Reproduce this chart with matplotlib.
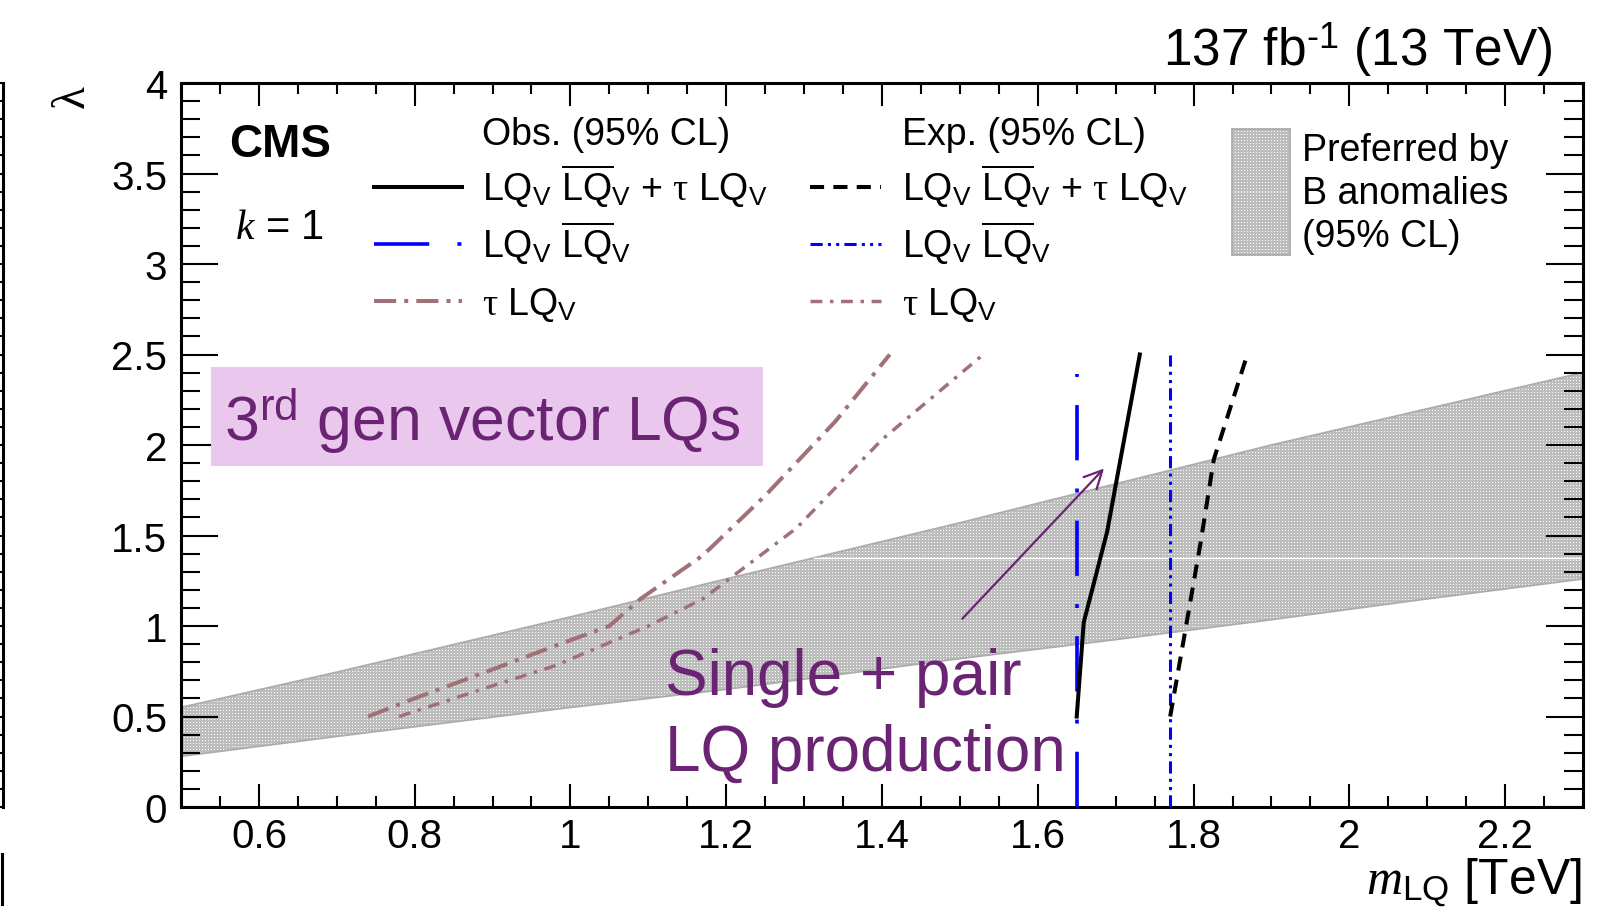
import numpy as np
import matplotlib
matplotlib.use("Agg")
import matplotlib.pyplot as plt
from matplotlib.lines import Line2D
from matplotlib.patches import Polygon, Rectangle
from matplotlib.ticker import MultipleLocator, FuncFormatter

plt.rcParams['font.family'] = ['Liberation Sans', 'DejaVu Sans']
plt.rcParams['mathtext.fontset'] = 'custom'
plt.rcParams['mathtext.rm'] = 'Liberation Sans'
plt.rcParams['mathtext.it'] = 'Liberation Serif:italic'
plt.rcParams['mathtext.bf'] = 'Liberation Sans:bold'
plt.rcParams['mathtext.sf'] = 'Liberation Serif'

# ------------------------------------------------------------------
# limits (lambda vs m_LQ), all masses in TeV
# ------------------------------------------------------------------
band_x     = [0.50, 0.70, 1.00, 1.20, 1.50, 1.70, 1.90, 2.10, 2.30]
band_upper = [0.55, 0.745, 1.05, 1.26, 1.57, 1.785, 2.00, 2.20, 2.40]
band_lower = [0.28, 0.39, 0.55, 0.65, 0.82, 0.925, 1.035, 1.15, 1.26]
band_split = 1.376

obs_comb_x = [1.650, 1.659, 1.689, 1.731]
obs_comb_y = [0.50, 1.02, 1.52, 2.50]
exp_comb_x = [1.770, 1.789, 1.809, 1.826, 1.869]
exp_comb_y = [0.50, 0.965, 1.46, 1.92, 2.50]

obs_pair_x = [1.65, 1.65]
obs_pair_y = [0.0, 2.39]
exp_pair_x = [1.77, 1.77]
exp_pair_y = [0.0, 2.50]

obs_single_x = [0.74, 0.80, 0.90, 0.98, 1.05, 1.09, 1.17, 1.25, 1.34, 1.41]
obs_single_y = [0.50, 0.60, 0.76, 0.89, 1.00, 1.15, 1.39, 1.72, 2.13, 2.50]
exp_single_x = [0.78, 0.90, 0.98, 1.10, 1.17, 1.29, 1.40, 1.53]
exp_single_y = [0.50, 0.67, 0.78, 1.00, 1.15, 1.54, 2.03, 2.50]

arrow_tail = (1.503, 1.04)
arrow_head = (1.685, 1.87)

W, H = 1608, 912


def fpos(x, y):
    # pixel position -> figure fraction
    return x / W, 1 - y / H


def dots_texture(h, w):
    tex = np.full((h, w), 0.74)
    tex[::3, ::3] = 1.0
    return tex


purple = '#6b2374'
tau_col = '#a07278'
dash_obs_pair = (0, (15.3, 7.8, 1.1, 7.8))
dash_exp_pair = (0, (4, 1.7, 1, 1.7, 1, 1.7))
dash_exp_comb = (0, (3.5, 2.3))
dash_obs_single = (0, (5.5, 2, 1, 2))
dash_exp_single = (0, (3.4, 2.2, 1, 2.2))

fig = plt.figure(figsize=(W / 100, H / 100), dpi=100)
ax = fig.add_axes([181 / W, 1 - 808 / H, (1583 - 181) / W, (808 - 84) / H])
ax.set_xlim(0.5, 2.3)
ax.set_ylim(0, 4)

# B-anomaly band with the dotted fill
verts = np.column_stack([band_x + band_x[::-1], band_upper + band_lower[::-1]])
clip = Polygon(verts, closed=True, facecolor='none', edgecolor='none')
ax.add_patch(clip)
im = ax.imshow(dots_texture(724, 1402), extent=[0.5, 2.3, 0, 4], aspect='auto',
               cmap='gray', vmin=0, vmax=1, interpolation='nearest', zorder=1)
im.set_clip_path(clip)
ax.plot(band_x, band_upper, color='#acacac', lw=1.3, zorder=1.5)
ax.plot(band_x, band_lower, color='#acacac', lw=1.3, zorder=1.5)
x_split = np.interp(band_split, band_upper, band_x)
ax.plot([x_split, 2.3], [band_split, band_split], color='white', lw=1.0, zorder=1.6)

# limit curves
ax.plot(obs_single_x, obs_single_y, color=tau_col, lw=2.9, linestyle=dash_obs_single, zorder=3)
ax.plot(exp_single_x, exp_single_y, color=tau_col, lw=2.5, linestyle=dash_exp_single, zorder=3)
ax.plot(obs_pair_x, obs_pair_y, color='#0000ff', lw=2.6, linestyle=dash_obs_pair, zorder=3)
ax.plot(exp_pair_x, exp_pair_y, color='#0000ff', lw=2.2, linestyle=dash_exp_pair, zorder=3)
ax.plot(obs_comb_x, obs_comb_y, color='black', lw=2.9, zorder=4)
ax.plot(exp_comb_x, exp_comb_y, color='black', lw=2.9, linestyle=dash_exp_comb, zorder=4)

ax.annotate('', xy=arrow_head, xytext=arrow_tail,
            arrowprops=dict(arrowstyle='->', color=purple, lw=1.6, mutation_scale=32,
                            shrinkA=0, shrinkB=0), zorder=5)

# axes styling
for sp in ax.spines.values():
    sp.set_linewidth(2.2)
ax.xaxis.set_major_locator(MultipleLocator(0.2))
ax.xaxis.set_minor_locator(MultipleLocator(0.05))
ax.yaxis.set_major_locator(MultipleLocator(0.5))
ax.yaxis.set_minor_locator(MultipleLocator(0.1))
fmt = FuncFormatter(lambda v, _: f'{v:g}')
ax.xaxis.set_major_formatter(fmt)
ax.yaxis.set_major_formatter(fmt)
ax.tick_params(axis='x', which='major', direction='in', length=16.5, width=1.5,
               top=True, labelsize=29, pad=7)
ax.tick_params(axis='x', which='minor', direction='in', length=8, width=1.5, top=True)
ax.tick_params(axis='y', which='major', direction='in', length=26.6, width=1.5,
               right=True, labelsize=29, pad=10)
ax.tick_params(axis='y', which='minor', direction='in', length=13.7, width=1.5, right=True)

# neighbouring panel edge on the far left
axl = fig.add_axes([-0.2, 1 - 808 / H, 0.2 + 3 / W, (808 - 84) / H])
axl.set_ylim(0, 4)
axl.set_xticks([])
for side in ('left', 'top', 'bottom'):
    axl.spines[side].set_visible(False)
axl.spines['right'].set_linewidth(2.2)
axl.yaxis.set_major_locator(MultipleLocator(0.5))
axl.yaxis.set_minor_locator(MultipleLocator(0.1))
axl.tick_params(axis='y', which='both', left=False, right=True, labelleft=False,
                direction='in', length=20, width=1.5)
fig.add_artist(Line2D([2 / W, 2 / W], [1 - 855 / H, 1 - 905 / H], color='black', lw=2.2))

# axis titles
fig.text(*fpos(73, 97), 'λ', fontsize=34, family='Liberation Serif', rotation=90,
         ha='center', va='center')
fig.text(*fpos(1582, 895), r'$m_{\mathrm{LQ}}$ [TeV]', fontsize=36, ha='right', va='baseline')
fig.text(*fpos(1552, 65), '137 fb$^{\u2010\\mathrm{1}}$ (13 TeV)', fontsize=37,
         ha='right', va='baseline')
fig.text(*fpos(229, 157), 'CMS', fontsize=33, fontweight='bold', ha='left', va='baseline')
fig.text(*fpos(235, 239), r'$k$ = 1', fontsize=30, ha='left', va='baseline')

# legend
lq2 = r'LQ$_\mathrm{V}$ $\overline{\mathrm{LQ}}_\mathrm{V}$'
lqt = r'$\mathsf{\tau}$ LQ$_\mathrm{V}$'
fig.text(*fpos(482, 145), 'Obs. (95% CL)', fontsize=27, va='baseline')
fig.text(*fpos(902, 145), 'Exp. (95% CL)', fontsize=27, va='baseline')
rows = [
    (lq2 + ' + ' + lqt, dict(color='black', lw=2.9), dict(color='black', lw=2.9, linestyle=dash_exp_comb)),
    (lq2, dict(color='#0000ff', lw=2.6, linestyle=dash_obs_pair), dict(color='#0000ff', lw=2.2, linestyle=dash_exp_pair)),
    (lqt, dict(color=tau_col, lw=2.9, linestyle=dash_obs_single), dict(color=tau_col, lw=2.5, linestyle=dash_exp_single)),
]
for i, (label, obs_style, exp_style) in enumerate(rows):
    yb = 201 + 57 * i
    ym = 1 - (yb - 13) / H
    fig.add_artist(Line2D([374 / W, 462 / W], [ym, ym], **obs_style))
    fig.add_artist(Line2D([810 / W, 881 / W], [ym, ym], **exp_style))
    fig.text(*fpos(482, yb), label, fontsize=27, va='baseline')
    fig.text(*fpos(902, yb), label, fontsize=27, va='baseline')

axb = fig.add_axes([1232 / W, 1 - 256 / H, 58 / W, 126 / H])
axb.imshow(dots_texture(126, 58), cmap='gray', vmin=0, vmax=1, aspect='auto',
           interpolation='nearest')
axb.set_xticks([])
axb.set_yticks([])
for sp in axb.spines.values():
    sp.set_color('#acacac')
    sp.set_linewidth(1.3)
for i, line in enumerate(['Preferred by', 'B anomalies', '(95% CL)']):
    fig.text(*fpos(1302, 161 + 43 * i), line, fontsize=27, va='baseline')

# annotations
x0, y0 = fpos(211, 467)
x1, y1 = fpos(763, 368)
fig.add_artist(Rectangle((x0, y0), x1 - x0, y1 - y0, transform=fig.transFigure,
                         facecolor='#eac8ee', edgecolor='none', zorder=2))
fig.text(*fpos(224, 441), r'3$^{\mathrm{rd}}$ gen vector LQs', fontsize=45,
         color=purple, va='baseline', zorder=3)
fig.text(*fpos(665, 695), 'Single + pair', fontsize=46, color=purple, va='baseline', zorder=6)
fig.text(*fpos(665, 771), 'LQ production', fontsize=46, color=purple, va='baseline', zorder=6)

fig.savefig('out.png', dpi=100)
